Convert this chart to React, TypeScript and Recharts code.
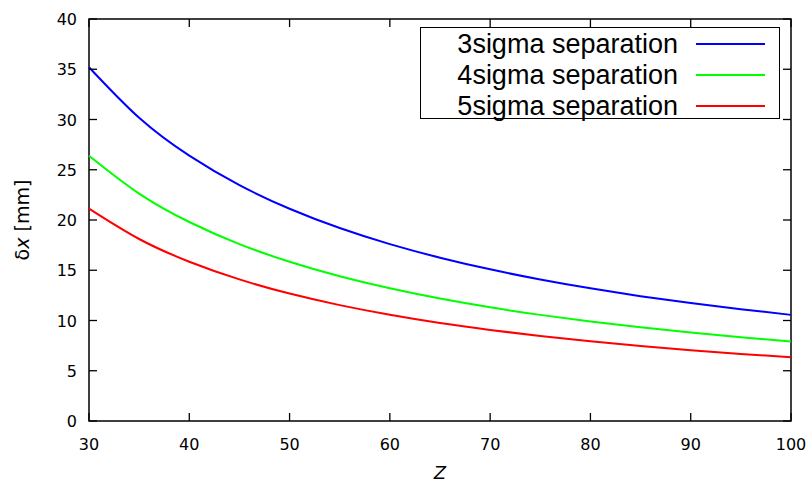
import React from 'react'
import { LineChart, Line, XAxis, YAxis, Legend, ReferenceArea } from 'recharts'

// separation needed vs Z, every 5 units
const zValues = [30, 35, 40, 45, 50, 55, 60, 65, 70, 75, 80, 85, 90, 95, 100]
const sigma3 = [35.2, 30.17, 26.4, 23.47, 21.12, 19.2, 17.6, 16.25, 15.09, 14.08, 13.2, 12.42, 11.73, 11.12, 10.56]
const sigma4 = [26.4, 22.63, 19.8, 17.6, 15.84, 14.4, 13.2, 12.18, 11.31, 10.56, 9.9, 9.32, 8.8, 8.34, 7.92]
const sigma5 = [21.13, 18.11, 15.85, 14.09, 12.68, 11.53, 10.57, 9.75, 9.06, 8.45, 7.93, 7.46, 7.04, 6.67, 6.34]

const xTicks = [30, 40, 50, 60, 70, 80, 90, 100]
const yTicks = [0, 5, 10, 15, 20, 25, 30, 35, 40]

const seriesNames = ['3sigma separation', '4sigma separation', '5sigma separation']
const seriesKeys = ['s3', 's4', 's5']
const seriesColors = ['#0000ff', '#00ff00', '#ff0000']

const rows = zValues.map((z, i) => ({ z, s3: sigma3[i], s4: sigma4[i], s5: sigma5[i] }))

const X_MIN = 30, X_MAX = 100, Y_MIN = 0, Y_MAX = 40
const TICK = -8 // negative = ticks point into the plot, gnuplot style
const tickFont = { fontFamily: 'DejaVu Sans', fontSize: 16, fill: '#000' }
const tickLine = { stroke: '#000', strokeWidth: 1.3 }

// labels placed relative to the plot edge (tick props come already offset by tickSize + tickMargin)
function XTick({ x, y, payload }: any) {
  return <text x={x} y={y + 29} textAnchor="middle" {...tickFont}>{payload.value}</text>
}

function YTick({ x, y, payload }: any) {
  return <text x={x} y={y + 6} textAnchor="end" {...tickFont}>{payload.value}</text>
}

const NoLabel = () => <g />

function LegendBox({ payload }: any) {
  return (
    <div style={{
      width: 360, height: 92, boxSizing: 'border-box', border: '1.5px solid #000', background: '#fff',
      paddingTop: 1, fontFamily: '"Liberation Sans", Arial, sans-serif', fontSize: 27, color: '#000',
    }}>
      {(payload || []).map((p: any) => (
        <div key={p.value} style={{ display: 'flex', alignItems: 'center', height: 30.7 }}>
          <span style={{ width: 257, textAlign: 'right', whiteSpace: 'nowrap', lineHeight: '30px' }}>{p.value}</span>
          <span style={{ marginLeft: 18, width: 69, height: 2, background: p.color }} />
        </div>
      ))}
    </div>
  )
}

export default function App() {
  return (
    <div style={{ position: 'absolute', left: 0, top: 0, background: '#fff' }}>
      <LineChart width={812} height={484} data={rows} margin={{ top: 18, right: 20, bottom: 33, left: 29 }}>
        <XAxis
          dataKey="z" type="number" domain={[X_MIN, X_MAX]} ticks={xTicks} height={30}
          axisLine={false} tickLine={tickLine} tickSize={TICK} tickMargin={8} tick={<XTick />} interval={0}
          label={() => (
            <text x={440} y={479} textAnchor="middle" fontFamily="DejaVu Sans" fontSize={18} fontStyle="italic" fill="#000">Z</text>
          )}
        />
        {/* mirrored ticks on top and right; axes need a nonzero size to render */}
        <XAxis
          xAxisId="top" orientation="top" dataKey="z" type="number" domain={[X_MIN, X_MAX]} ticks={xTicks}
          height={1} axisLine={false} tickLine={tickLine} tickSize={TICK} tick={<NoLabel />} interval={0}
        />
        <YAxis
          type="number" domain={[Y_MIN, Y_MAX]} ticks={yTicks} width={60}
          axisLine={false} tickLine={tickLine} tickSize={TICK} tickMargin={20} tick={<YTick />} interval={0}
          label={() => (
            <text x={29} y={220} transform="rotate(-90 29 220)" textAnchor="middle" fontFamily="DejaVu Sans" fontSize={19} fill="#000">
              δ<tspan fontStyle="italic">x</tspan> [mm]
            </text>
          )}
        />
        <YAxis
          yAxisId="right" orientation="right" dataKey="s3" type="number" domain={[Y_MIN, Y_MAX]} ticks={yTicks}
          width={1} axisLine={false} tickLine={tickLine} tickSize={TICK} tick={<NoLabel />} interval={0}
        />
        <ReferenceArea x1={X_MIN} x2={X_MAX} y1={Y_MIN} y2={Y_MAX} fill="none" stroke="#000" strokeWidth={1.5} ifOverflow="visible" />
        {seriesKeys.map((k, i) => (
          <Line
            key={k} dataKey={k} name={seriesNames[i]} type="natural" stroke={seriesColors[i]}
            strokeWidth={2} dot={false} isAnimationActive={false}
          />
        ))}
        <Legend
          layout="vertical" align="center" verticalAlign="middle"
          wrapperStyle={{ position: 'absolute', left: 420, top: 27, width: 360, height: 92 }}
          content={<LegendBox />}
        />
      </LineChart>
    </div>
  )
}
